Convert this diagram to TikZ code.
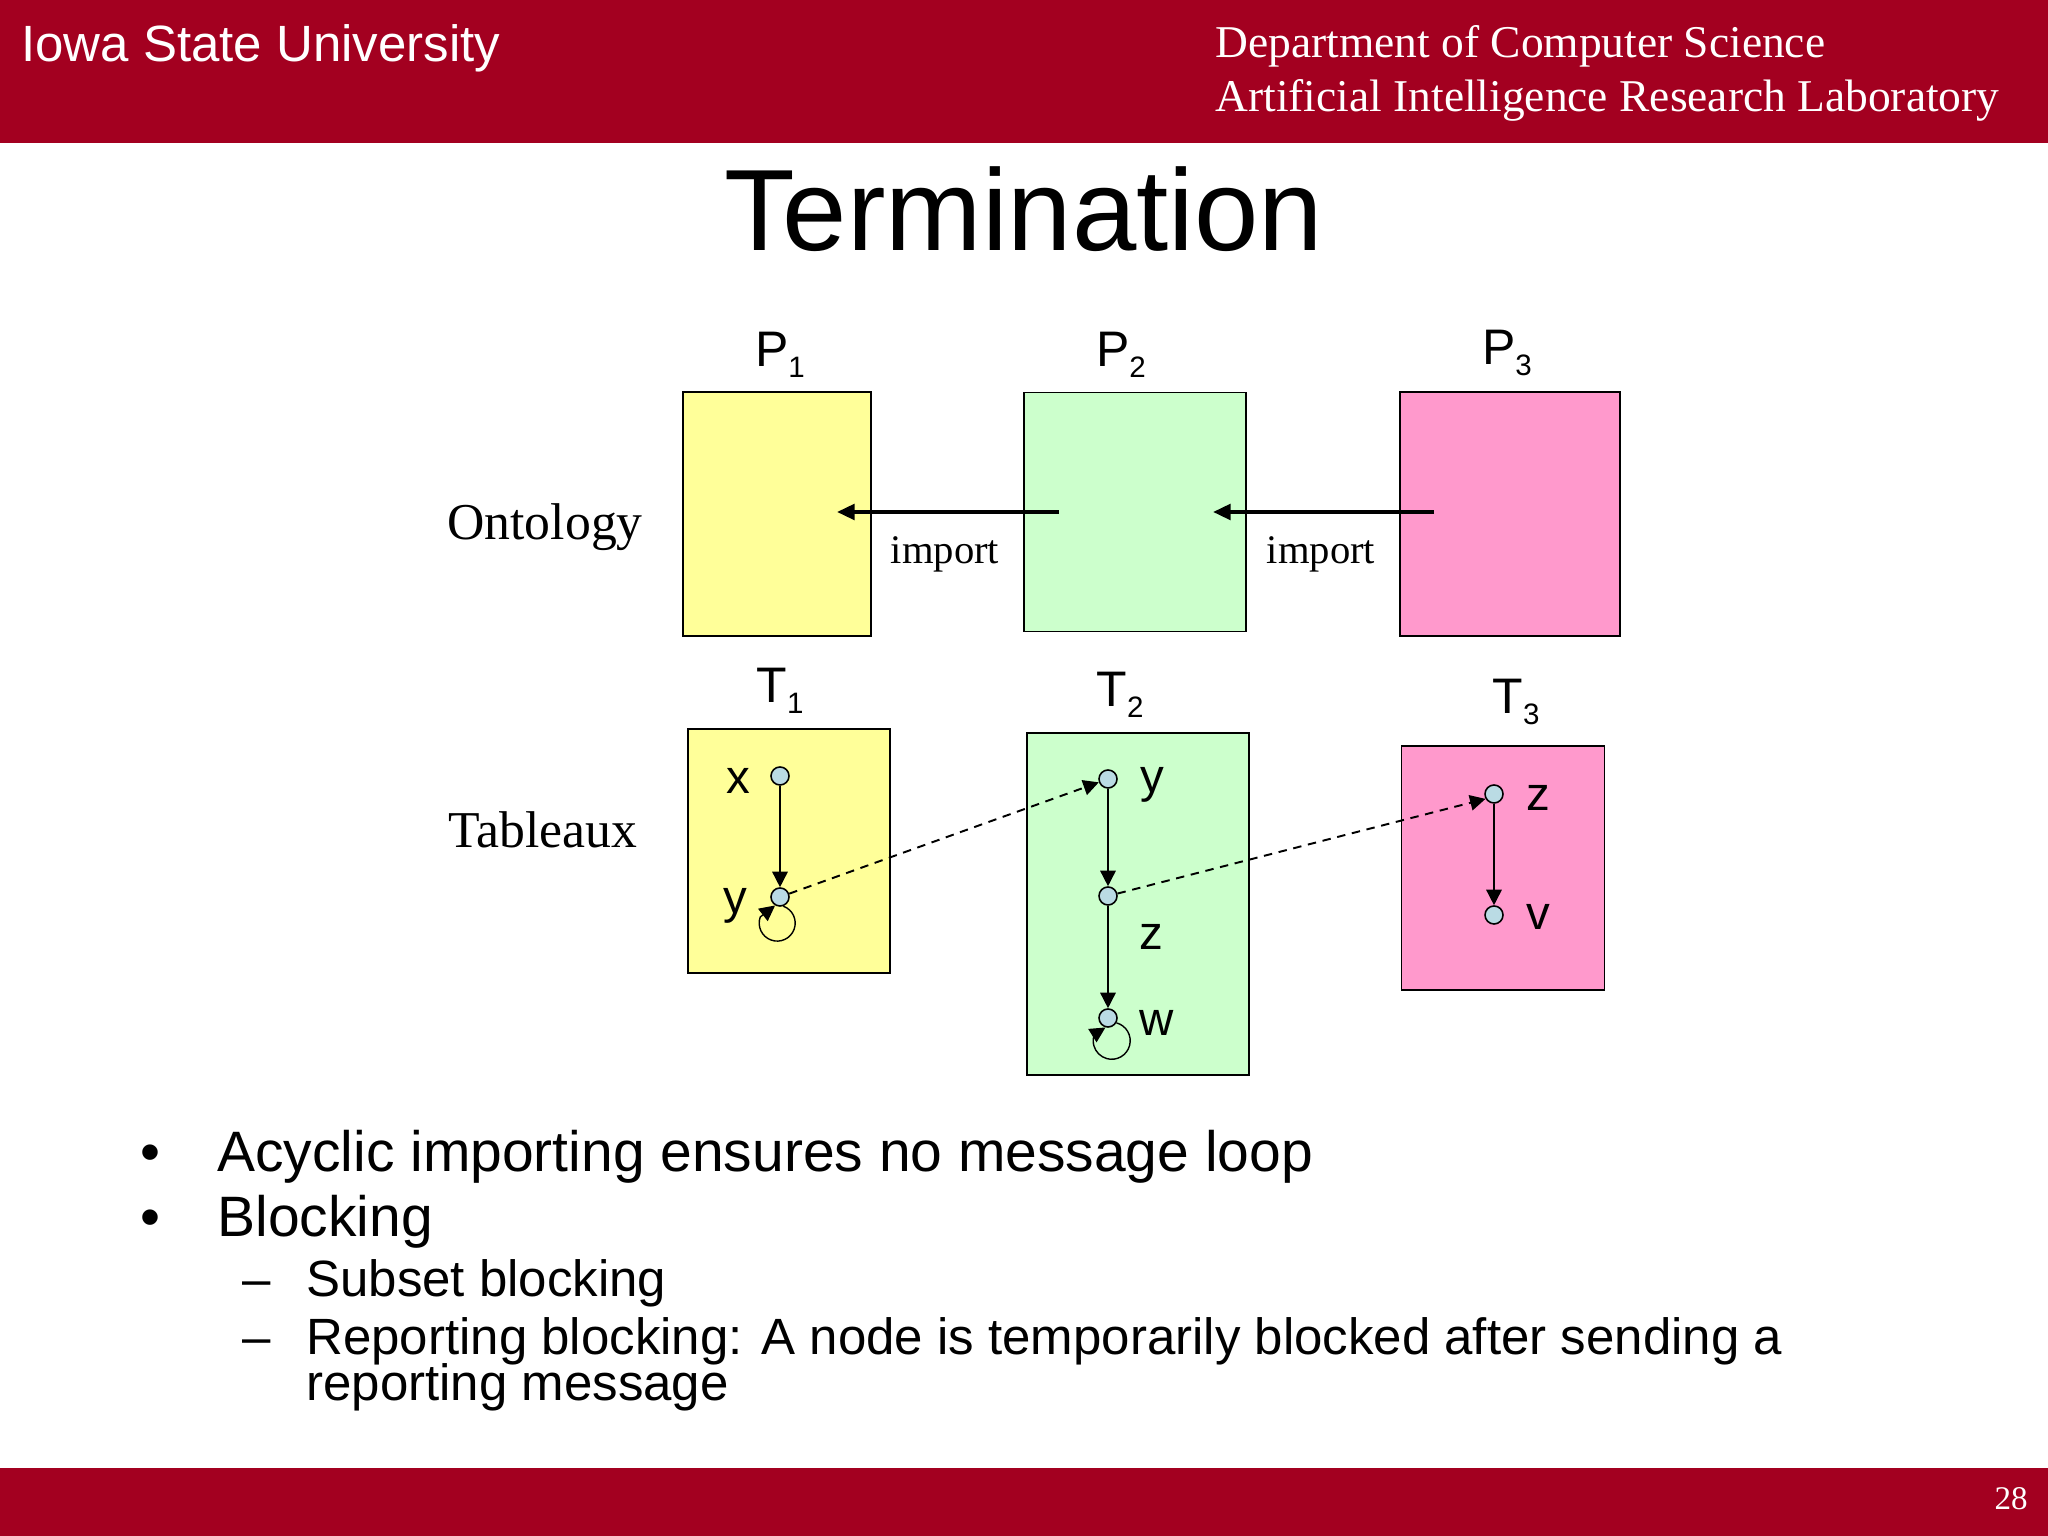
\documentclass[tikz,border=0pt]{standalone}
\usepackage{fontspec}
\setmainfont{Liberation Sans}
\newfontfamily\serifface{Liberation Serif}
\usetikzlibrary{arrows.meta}
\definecolor{isured}{RGB}{163,0,32}
\definecolor{paleyellow}{RGB}{255,255,153}
\definecolor{palegreen}{RGB}{204,255,204}
\definecolor{palepink}{RGB}{255,153,204}
\definecolor{nodeblue}{RGB}{186,219,228}
\newcommand{\fsize}[1]{\fontsize{#1}{#1}\selectfont}
\newcommand{\lowidx}[1]{\raisebox{-3.1pt}{\fsize{8.4}#1}}
\tikzset{
	box/.style={draw, line width=0.5pt, inner sep=0pt},
	dot/.style={circle, draw, fill=nodeblue, minimum size=0.18cm, inner sep=0pt, line width=0.45pt},
	letter/.style={anchor=base, font=\fsize{13.5}},
	tag/.style={anchor=base, font=\fsize{14.2}},
	side/.style={anchor=base west, font=\serifface\fsize{14.7}},
	imp/.style={anchor=base, font=\serifface\fsize{11.55}},
	bullet/.style={anchor=base west, font=\fsize{16.2}},
	subbullet/.style={anchor=base west, font=\fsize{14.5}, align=left},
	link/.style={-{Triangle[length=4.4pt,width=4.4pt]}, line width=0.45pt},
	msg/.style={link, dash pattern=on 2.4pt off 1.9pt, line width=0.55pt},
	selfloop/.style={-{Triangle[length=4.4pt,width=4.4pt]}, line width=0.4pt},
	importarrow/.style={-{Triangle[length=5pt,width=4.4pt]}, line width=1.1pt},
}
\begin{document}
\begin{tikzpicture}[x=0.01cm, y=0.01cm]
	\useasboundingbox (0,0) rectangle (2048,1536);
	% bands
	\fill[isured] (0,1393) rectangle (2048,1536);
	\fill[isured] (0,0) rectangle (2048,68);
	\node[anchor=base west, text=white, font=\fsize{14.5}] (univ) at (9,1474) {Iowa State University};
	\node[anchor=base west, text=white, font=\serifface\fsize{12.93}] (dept) at (1203,1478) {Department of Computer Science};
	\node[anchor=base west, text=white, font=\serifface\fsize{12.93}] (lab) at (1203,1424) {Artificial Intelligence Research Laboratory};
	\node[anchor=base east, text=white, font=\serifface\fsize{9.4}] (pagenum) at (2040,27) {28};
	\node[anchor=base, font=\fsize{32.9}] (title) at (1024,1285) {Termination};

	% ontology row
	\node[box, fill=paleyellow, minimum width=1.88cm, minimum height=2.44cm] (p1) at (777,1022) {};
	\node[box, fill=palegreen, minimum width=2.22cm, minimum height=2.39cm] (p2) at (1135,1024) {};
	\node[box, fill=palepink, minimum width=2.20cm, minimum height=2.44cm] (p3) at (1510,1022) {};
	\node[tag] (p1name) at (780,1169) {P\lowidx{1}};
	\node[tag] (p2name) at (1121,1169) {P\lowidx{2}};
	\node[tag] (p3name) at (1507,1171) {P\lowidx{3}};
	\node[side] (onto) at (435,996) {Ontology};
	\coordinate (p1in) at (837,1024);
	\coordinate (p2out) at (1059,1024);
	\coordinate (p2in) at (1213,1024);
	\coordinate (p3out) at (1434,1024);
	\draw[importarrow] (p2out) -- (p1in);
	\draw[importarrow] (p3out) -- (p2in);
	\node[imp] (imp1) at (945,972) {import};
	\node[imp] (imp2) at (1321,972) {import};

	% tableaux row
	\node[box, fill=paleyellow, minimum width=2.02cm, minimum height=2.44cm] (t1) at (789,685) {};
	\node[box, fill=palegreen, minimum width=2.22cm, minimum height=3.42cm] (t2) at (1138,632) {};
	\node[box, fill=palepink, minimum width=2.03cm, minimum height=2.44cm] (t3) at (1503,668) {};
	\node[tag] (t1name) at (780,833) {T\lowidx{1}};
	\node[tag] (t2name) at (1120,829) {T\lowidx{2}};
	\node[tag] (t3name) at (1516,822) {T\lowidx{3}};
	\node[side] (tabl) at (436,688) {Tableaux};

	\node[dot] (ax) at (780,760) {};
	\node[dot] (ay) at (780,639) {};
	\node[dot] (by) at (1108,757) {};
	\node[dot] (bz) at (1108,640) {};
	\node[dot] (bw) at (1108,518) {};
	\node[dot] (cz) at (1494,742) {};
	\node[dot] (cv) at (1494,621) {};

	\node[letter] at (738,742) (axname) {x};
	\node[letter] at (735,622) (ayname) {y};
	\node[letter] at (1152,743) (byname) {y};
	\node[letter] at (1151,586) (bzname) {z};
	\node[letter] at (1157,500) (bwname) {w};
	\node[letter] at (1538,725) (czname) {z};
	\node[letter] at (1538,606) (cvname) {v};

	\draw[link] (ax) -- (ay);
	\draw[link] (by) -- (bz);
	\draw[link] (bz) -- (bw);
	\draw[link] (cz) -- (cv);
	\draw[msg] (ay) -- (by.200);
	\draw[msg] (bz) -- (cz.210);
	\draw[selfloop] (ay.-70) arc (70:-200:18) -- (ay.-120);
	\draw[selfloop] (bw.-30) arc (75:-200:18.5) -- (bw.-105);

	% text
	\node[bullet] (b1dot) at (128,1536-1172) {•};
	\node[bullet] (b1) at (205,1536-1172) {Acyclic importing ensures no message loop};
	\node[bullet] (b2dot) at (128,1536-1237) {•};
	\node[bullet] (b2) at (205,1536-1237) {Blocking};
	\node[subbullet] (s1dash) at (230,1536-1297) {–};
	\node[subbullet] (s1) at (294,1536-1297) {Subset blocking};
	\node[subbullet] (s2dash) at (230,1536-1355) {–};
	\node[subbullet] (s2) at (294,1536-1355) {Reporting blocking: A node is temporarily blocked after sending a};
	\node[subbullet] (s3) at (294,1536-1401) {reporting message};
\end{tikzpicture}
\end{document}
